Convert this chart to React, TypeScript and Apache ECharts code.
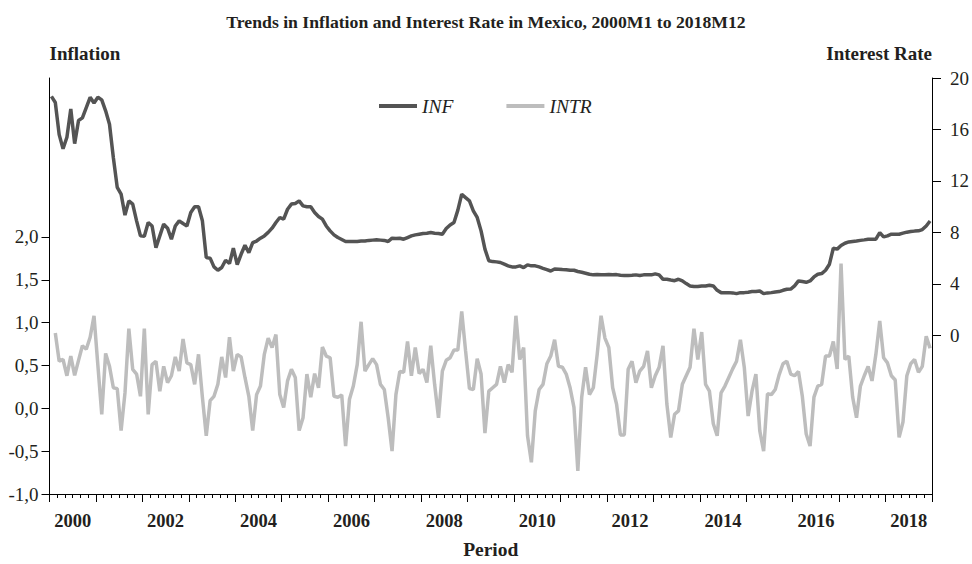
import React, { useEffect, useRef } from "react";
import * as echarts from "echarts";

const FONT = "'Liberation Serif', 'Times New Roman', serif";

// Dark series (plotted on right axis), monthly 2000M1..2018M12
const INF: number[] = [
  18.57, 18.1, 15.6, 14.5, 15.4, 17.6, 14.9, 16.7, 16.9, 17.7, 18.5, 18.05,
  18.5, 18.3, 17.45, 16.4, 13.8, 11.5, 10.97, 9.34, 10.45, 10.2, 8.9, 7.73,
  7.7, 8.77, 8.5, 6.82, 7.73, 8.64, 8.33, 7.47, 8.5, 8.9, 8.69, 8.5,
  9.55, 9.99, 9.99, 8.9, 6.04, 6.0, 5.32, 5.06, 5.27, 5.84, 5.58, 6.77,
  5.5, 6.3, 7.0, 6.43, 7.2, 7.33, 7.55, 7.73, 8.0, 8.33, 8.77, 9.16,
  9.03, 9.8, 10.2, 10.25, 10.45, 10.06, 9.99, 9.99, 9.55, 9.24, 9.03, 8.5,
  8.12, 7.81, 7.6, 7.45, 7.29, 7.29, 7.29, 7.3, 7.33, 7.33, 7.38, 7.4,
  7.42, 7.4, 7.38, 7.29, 7.55, 7.52, 7.55, 7.47, 7.6, 7.73, 7.81, 7.86,
  7.91, 7.94, 7.99, 7.94, 7.91, 7.86, 8.3, 8.58, 8.77, 9.73, 10.97, 10.7,
  10.45, 9.68, 9.16, 8.12, 6.7, 5.8, 5.73, 5.71, 5.66, 5.53, 5.4, 5.32,
  5.32, 5.4, 5.27, 5.48, 5.4, 5.4, 5.32, 5.21, 5.11, 5.0, 5.16, 5.14,
  5.11, 5.09, 5.06, 5.06, 4.96, 4.9, 4.83, 4.75, 4.7, 4.72, 4.7, 4.7,
  4.72, 4.7, 4.72, 4.67, 4.65, 4.65, 4.67, 4.7, 4.65, 4.7, 4.7, 4.7,
  4.78, 4.7, 4.36, 4.36, 4.3, 4.25, 4.36, 4.23, 4.02, 3.84, 3.79, 3.79,
  3.84, 3.84, 3.89, 3.84, 3.5, 3.32, 3.32, 3.32, 3.3, 3.24, 3.32, 3.32,
  3.35, 3.4, 3.4, 3.45, 3.24, 3.3, 3.32, 3.37, 3.4, 3.5, 3.58, 3.6,
  3.84, 4.23, 4.18, 4.12, 4.23, 4.54, 4.75, 4.8, 5.06, 5.53, 6.77, 6.7,
  6.98, 7.16, 7.26, 7.3, 7.33, 7.38, 7.42, 7.47, 7.47, 7.47, 7.99, 7.65,
  7.73, 7.86, 7.86, 7.86, 7.94, 8.02, 8.07, 8.1, 8.12, 8.22, 8.5, 8.89,
];

// Light series (plotted on left axis), starts 2000M2
const INTR: (number | null)[] = [
  null, 0.88, 0.55, 0.57, 0.38, 0.61, 0.385, 0.56, 0.73, 0.69, 0.83, 1.08,
  0.5, -0.07, 0.64, 0.49, 0.24, 0.23, -0.26, 0.18, 0.93, 0.455, 0.4, 0.14,
  0.93, -0.07, 0.51, 0.55, 0.2, 0.49, 0.3, 0.38, 0.6, 0.435, 0.81, 0.53,
  0.51, 0.28, 0.63, 0.13, -0.32, 0.09, 0.14, 0.28, 0.6, 0.36, 0.83, 0.435,
  0.63, 0.6, 0.36, 0.14, -0.26, 0.16, 0.26, 0.63, 0.82, 0.71, 0.86, 0.16,
  0.01, 0.32, 0.455, 0.36, -0.26, -0.11, 0.4, 0.13, 0.405, 0.24, 0.715, 0.61,
  0.59, 0.14, 0.13, 0.156, -0.44, 0.106, 0.26, 0.51, 1.01, 0.435, 0.51, 0.58,
  0.51, 0.28, 0.22, -0.11, -0.5, 0.16, 0.43, 0.42, 0.78, 0.38, 0.71, 0.405,
  0.455, 0.3, 0.73, 0.28, -0.11, 0.435, 0.56, 0.59, 0.68, 0.68, 1.13, 0.67,
  0.23, 0.22, 0.58, 0.4, -0.29, 0.2, 0.24, 0.28, 0.49, 0.3, 0.51, 0.42,
  1.08, 0.57, 0.71, -0.32, -0.63, -0.03, 0.22, 0.28, 0.52, 0.61, 0.8, 0.49,
  0.48, 0.4, 0.24, 0.01, -0.73, 0.13, 0.48, 0.16, 0.24, 0.63, 1.08, 0.82,
  0.71, 0.24, 0.05, -0.31, -0.31, 0.455, 0.55, 0.3, 0.435, 0.49, 0.67, 0.24,
  0.38, 0.48, 0.73, 0.05, -0.34, -0.07, -0.03, 0.28, 0.38, 0.48, 0.93, 0.57,
  0.89, 0.28, 0.2, -0.18, -0.32, 0.18, 0.26, 0.36, 0.46, 0.55, 0.8, 0.48,
  -0.09, 0.2, 0.4, -0.26, -0.5, 0.17, 0.16, 0.22, 0.39, 0.52, 0.55, 0.4,
  0.38, 0.43, 0.14, -0.3, -0.44, 0.13, 0.26, 0.28, 0.61, 0.61, 0.78, 0.46,
  1.69, 0.57, 0.61, 0.13, -0.11, 0.26, 0.38, 0.49, 0.32, 0.63, 1.02, 0.59,
  0.53, 0.38, 0.33, -0.34, -0.16, 0.38, 0.52, 0.57, 0.42, 0.49, 0.84, 0.7,
];

const YEAR_LABELS = ["2000", "2002", "2004", "2006", "2008", "2010", "2012", "2014", "2016", "2018"];
const LEFT_TICKS = [-1, -0.5, 0, 0.5, 1, 1.5, 2];
const RIGHT_TICKS = [0, 4, 8, 12, 16, 20];

const TEXT = "#231f20";

export default function App() {
  const ref = useRef<HTMLDivElement>(null);
  useEffect(() => {
    if (!ref.current) return;
    const chart = echarts.init(ref.current, null, { renderer: "svg" });
    const yearPos = YEAR_LABELS.map((y) => (Number(y) - 2000) * 12 + 6);
    chart.setOption({
      animation: false,
      backgroundColor: "#fff",
      title: {
        text: "Trends in Inflation and Interest Rate in Mexico, 2000M1 to 2018M12",
        left: "center",
        top: 8,
        textStyle: { fontFamily: FONT, fontWeight: "bold", fontSize: 17.7, color: TEXT },
      },
      legend: {
        left: 374,
        top: 91,
        icon: "rect",
        itemWidth: 38,
        itemHeight: 4,
        itemGap: 53,
        textStyle: { fontFamily: FONT, fontStyle: "italic", fontSize: 19.5, color: TEXT },
        data: ["INF", "INTR"],
      },
      grid: { left: 49.5, right: 39.5, top: 78, bottom: 69, containLabel: false },
      xAxis: {
        type: "value",
        min: 0,
        max: 228,
        interval: 12,
        name: "Period",
        nameLocation: "middle",
        nameGap: 45,
        nameTextStyle: { fontFamily: FONT, fontWeight: "bold", fontSize: 19.5, color: TEXT },
        axisLine: { show: true, onZero: false, lineStyle: { color: "#000", width: 1 } },
        axisTick: { show: true, length: 8, lineStyle: { color: "#000" } },
        minorTick: { show: true, splitNumber: 6, length: 4, lineStyle: { color: "#000" } },
        splitLine: { show: false },
        axisLabel: {
          customValues: yearPos,
          formatter: (v: number) => String(2000 + Math.round((v - 6) / 12)),
          fontFamily: FONT,
          fontWeight: "bold",
          fontSize: 18.5,
          color: TEXT,
          margin: 17,
        },
      },
      yAxis: [
        {
          type: "value",
          position: "left",
          min: -1,
          max: 3.855,
          name: "Inflation",
          nameLocation: "end",
          nameGap: 15,
          nameTextStyle: { fontFamily: FONT, fontWeight: "bold", fontSize: 19, color: TEXT, align: "left" },
          axisLine: { show: true, onZero: false, lineStyle: { color: "#000", width: 1 } },
          axisTick: { show: true, length: 8, customValues: LEFT_TICKS, lineStyle: { color: "#000" } },
          splitLine: { show: false },
          axisLabel: {
            customValues: LEFT_TICKS,
            formatter: (v: number) => v.toFixed(1).replace(".", ","),
            fontFamily: FONT,
            fontSize: 19,
            color: TEXT,
            margin: 11,
          },
        },
        {
          type: "value",
          position: "right",
          min: -12.33,
          max: 20,
          name: "Interest Rate",
          nameLocation: "end",
          nameGap: 15,
          nameTextStyle: { fontFamily: FONT, fontWeight: "bold", fontSize: 19, color: TEXT, align: "right" },
          axisLine: { show: true, onZero: false, lineStyle: { color: "#000", width: 1 } },
          axisTick: { show: true, length: 9, customValues: RIGHT_TICKS, lineStyle: { color: "#000" } },
          splitLine: { show: false },
          axisLabel: {
            customValues: RIGHT_TICKS,
            fontFamily: FONT,
            fontSize: 19,
            color: TEXT,
            margin: 18,
          },
        },
      ],
      series: [
        {
          name: "INF",
          type: "line",
          yAxisIndex: 1,
          showSymbol: false,
          symbol: "none",
          color: "#545454",
          lineStyle: { color: "#545454", width: 3.5 },
          data: INF.map((v, i) => [i + 0.5, v]),
          z: 3,
        },
        {
          name: "INTR",
          type: "line",
          yAxisIndex: 0,
          showSymbol: false,
          symbol: "none",
          color: "#bdbdbd",
          lineStyle: { color: "#bdbdbd", width: 3.5 },
          data: INTR.map((v, i) => [i + 0.5, v]),
          z: 2,
        },
      ],
    });
    return () => chart.dispose();
  }, []);
  return (
    <div
      ref={ref}
      style={{ position: "absolute", left: 0, top: 0, width: 972, height: 564 }}
    />
  );
}
